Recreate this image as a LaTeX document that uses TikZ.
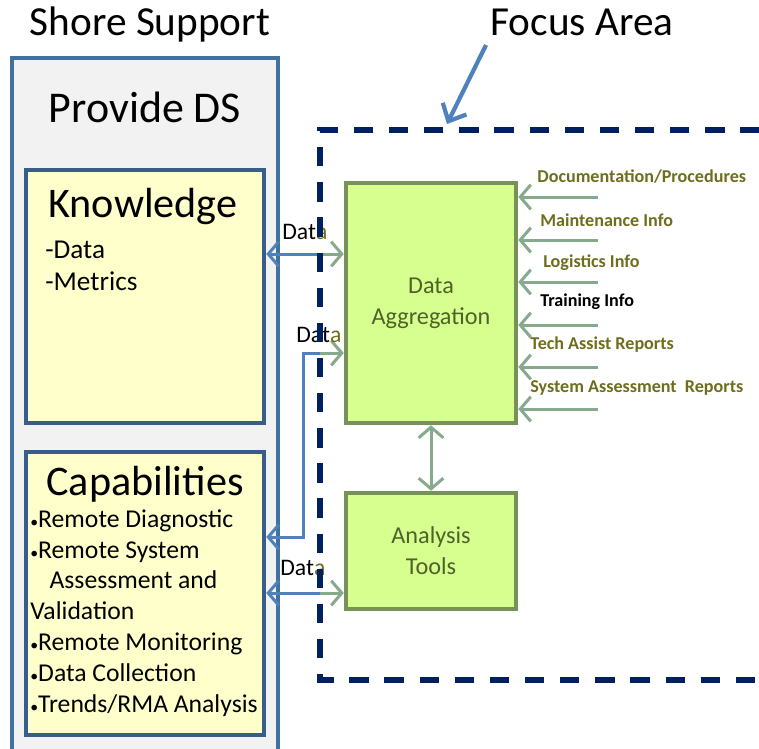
\documentclass[tikz,border=0pt]{standalone}
\usepackage{fontspec}
\setmainfont{Carlito}
\usetikzlibrary{arrows.meta}

\definecolor{shoreline}{RGB}{65,113,156}
\definecolor{shorefill}{RGB}{242,242,242}
\definecolor{infoline}{RGB}{56,93,138}
\definecolor{infofill}{RGB}{255,255,204}
\definecolor{procfill}{RGB}{214,255,143}
\definecolor{procline}{RGB}{118,146,88}
\definecolor{proctext}{RGB}{79,98,40}
\definecolor{feedline}{RGB}{134,170,140}
\definecolor{feedtext}{RGB}{110,110,30}
\definecolor{linkblue}{RGB}{79,129,189}
\definecolor{focusnavy}{RGB}{0,32,96}

\tikzset{
  shorebox/.style={draw=shoreline, fill=shorefill, line width=2.6pt},
  infobox/.style={draw=infoline, fill=infofill, line width=2.6pt,
    minimum width=4.76cm, inner sep=0pt},
  procbox/.style={draw=procline, fill=procfill, line width=2.6pt,
    minimum width=3.4cm, inner sep=0pt, text=proctext, align=center,
    font=\fontsize{13.8}{17.6}\selectfont},
  focusbox/.style={draw=focusnavy, line width=3.4pt, dash pattern=on 11pt off 9pt},
  feed/.style={draw=feedline, line width=1.7pt, -{Straight Barb[length=6pt,width=14pt]}},
  bluelink/.style={draw=linkblue, line width=1.7pt, -{Straight Barb[length=6pt,width=14pt]}},
  greenlink/.style={draw=feedline, line width=1.7pt, -{Straight Barb[length=6pt,width=14pt]}},
  feedlabel/.style={anchor=west, inner sep=0pt, text=feedtext,
    font=\bfseries\fontsize{10.3}{12}\selectfont},
  datalabel/.style={anchor=west, inner sep=0pt, font=\fontsize{13.5}{16}\selectfont},
  title/.style={inner sep=0pt, font=\fontsize{23.5}{28}\selectfont}
}
\newcommand{\capdot}{{\fontsize{9}{9}\selectfont\textbullet}}

\begin{document}
\begin{tikzpicture}[x=0.02cm, y=-0.02cm]
  \clip (0,0) rectangle (759,748);
  \fill[white] (0,0) rectangle (759,748);

  % shore side
  \node[title] (shore) at (150,24) {Shore Support};
  \draw[shorebox] (12,760) -- (12,58) -- (278,58) -- (278,760);
  \node[title, font=\fontsize{25}{30}\selectfont] (provide) at (145,107) {Provide DS};

  \node[infobox, minimum height=5.06cm] (know) at (145,296.5) {};
  \node[title, font=\fontsize{24}{28}\selectfont] (knowtitle) at (143,206) {Knowledge};
  \node[anchor=west, align=left, inner sep=0pt,
        font=\fontsize{15.5}{18.6}\selectfont] (knowlist) at (45,266)
    {-Data\\-Metrics};

  \node[infobox, minimum height=5.66cm] (cap) at (145,593.5) {};
  \node[title, font=\fontsize{24}{28}\selectfont] (captitle) at (145,484) {Capabilities};
  \node[anchor=north west, align=left, inner sep=0pt,
        font=\fontsize{14.6}{17.6}\selectfont] (caplist) at (30,509)
    {\capdot Remote Diagnostic\\
     \capdot Remote System\\
     \hspace*{0.75em}Assessment and\\
     Validation\\
     \capdot Remote Monitoring\\
     \capdot Data Collection\\
     \capdot Trends/RMA Analysis};

  % focus area
  \node[procbox, minimum height=4.8cm] (agg) at (431,303) {Data\\Aggregation};
  \node[procbox, minimum height=2.32cm] (tools) at (431,551) {Analysis\\Tools};
  \draw[feed, {Straight Barb[length=6pt,width=14pt]}-{Straight Barb[length=6pt,width=14pt]}]
    (agg.south) -- (tools.north);

  \foreach \y/\lx/\ly/\txt in {197/537/177/{Documentation/Procedures},
                               240/540/220/{Maintenance Info},
                               282/543/263/{Logistics Info},
                               367/530/345/{Tech Assist Reports},
                               409/530/388/{System Assessment\ \ Reports}}{
    \coordinate (src) at (598,\y);
    \draw[feed] (src) -- (src -| agg.east);
    \node[feedlabel] at (\lx,\ly) {\txt};
  }
  \coordinate (srct) at (598,325);
  \draw[feed] (srct) -- (srct -| agg.east);
  \node[feedlabel, text=black] (train) at (540,302) {Training Info};

  % data links
  \coordinate (cut1) at (320,254);
  \coordinate (cut2) at (320,353);
  \coordinate (bend) at (303,353);
  \coordinate (capy) at (0,537);
  \coordinate (cut3) at (320,593);
  \draw[bluelink] (cut1) -- (cut1 -| know.east);
  \draw[greenlink] (cut1) -- (cut1 -| agg.west);
  \draw[bluelink] (cut2) -- (bend) |- (capy -| cap.east);
  \draw[greenlink] (cut2) -- (cut2 -| agg.west);
  \draw[bluelink] (cut3) -- (cut3 -| cap.east);
  \draw[greenlink] (cut3) -- (cut3 -| tools.west);
  \node[datalabel] (data1) at (282,232) {Dat\textcolor{feedtext}{a}};
  \node[datalabel] (data2) at (296,335) {Dat\textcolor{feedtext}{a}};
  \node[datalabel] (data3) at (280,568) {Dat\textcolor{feedtext}{a}};

  \draw[focusbox] (830,130) -- (320,130) -- (320,680) -- (830,680);

  \node[title] (focus) at (582,22) {Focus Area};
  \coordinate (ptrtail) at (486,45);
  \coordinate (ptrhead) at (447,124);
  \draw[draw=linkblue, line width=2.4pt, -{Straight Barb[length=8pt,width=15pt]}]
    (ptrtail) -- (ptrhead);
\end{tikzpicture}
\end{document}
